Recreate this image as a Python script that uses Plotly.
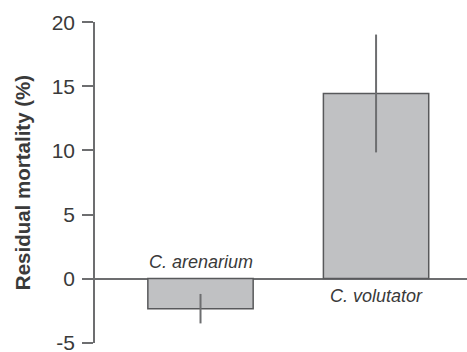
import plotly.graph_objects as go

species = ["C. arenarium", "C. volutator"]
residual_mortality = [-2.35, 14.45]
error = [1.15, 4.6]
y_ticks = [-5, 0, 5, 10, 15, 20]
y_tick_labels = ["-5", "0", "5", "10", "15", "20"]

x_pos = list(range(len(species)))

fig = go.Figure()
fig.add_trace(go.Bar(
    x=x_pos, y=residual_mortality, width=0.6,
    marker=dict(color="#c0c1c3", line=dict(color="#58595b", width=1.5)),
    error_y=dict(type="data", array=error, visible=True, color="#6d6e70",
                 thickness=2, width=0),
))

# species labels: above the zero line for negative bars, below for positive
for xi, name, v in zip(x_pos, species, residual_mortality):
    fig.add_annotation(x=xi, y=0, text="<i>" + name + "</i>", showarrow=False,
                       yshift=(17 if v < 0 else -17),
                       font=dict(family="Liberation Sans", size=18, color="#3a3a3a"))

fig.update_layout(
    width=467, height=352,
    margin=dict(l=95, r=0, t=22, b=9),
    plot_bgcolor="white", paper_bgcolor="white",
    showlegend=False,
    font=dict(family="Liberation Sans", color="#3a3a3a"),
    xaxis=dict(range=[-0.601, 1.518], showticklabels=False, showgrid=False,
               zeroline=False, showline=False, ticks=""),
    yaxis=dict(range=[-5.03, 20.03], tickvals=y_ticks, ticktext=y_tick_labels,
               ticks="outside", ticklen=11,
               tickwidth=1.5, tickcolor="#6d6e70", showline=True, linecolor="#6d6e70",
               linewidth=1.5, showgrid=False, zeroline=True, zerolinecolor="#6d6e70",
               zerolinewidth=1.5, tickfont=dict(size=21, color="#3a3a3a"),
               ticklabelstandoff=3, ticklabeloverflow="allow", automargin=False,
               title=dict(text="<b>Residual mortality (%)</b>", standoff=16,
                          font=dict(size=20.5, color="#3a3a3a"))),
)

fig.write_html("out.html")
